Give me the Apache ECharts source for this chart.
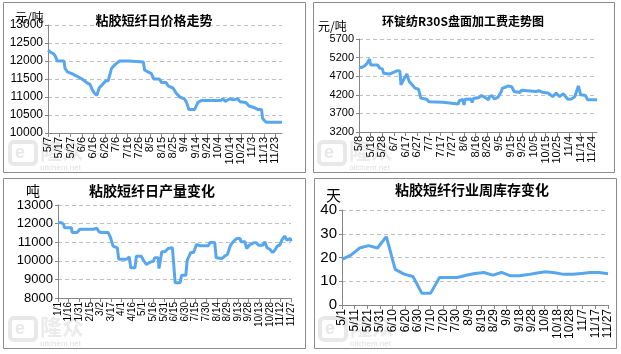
<!DOCTYPE html>
<html>
<head>
<meta charset="utf-8">
<script src="https://cdn.jsdelivr.net/npm/echarts@6/dist/echarts.min.js"></script>
<style>
html, body { margin: 0; padding: 0; background: #fff; }
#main { width: 621px; height: 354px; }
</style>
</head>
<body>
<div id="main"></div>
<script>
// 粘胶短纤日价格 (day index from 5/7)
var priceTicks = ['5/7','5/17','5/27','6/6','6/16','6/26','7/6','7/16','7/26','8/5','8/15','8/25','9/4','9/14','9/24','10/4','10/14','10/24','11/3','11/13','11/23'];
var priceDays = [0,2,5,7,8,14,15,17,21,24,30,34,37,39,41,43,45,48,51,53,56,59,63,71,72,84,85,88,91,93,98,100,104,106,110,113,116,120,122,124,129,132,135,140,141,152,154,156,160,163,167,169,174,177,182,185,188,189,192,206];
var priceValues = [12300,12250,12200,12100,12000,12000,11800,11700,11650,11600,11500,11400,11350,11200,11100,11050,11250,11350,11450,11450,11800,11900,12000,12000,11970,11970,11750,11700,11650,11500,11500,11400,11400,11300,11250,11100,11000,10950,10850,10650,10650,10850,10900,10900,10880,10900,10950,10880,10950,10920,10950,10870,10850,10750,10700,10650,10650,10400,10300,10300];

// 环锭纺R30S盘面加工费 (day index from 5/8)
var feeTicks = ['5/8','5/18','5/28','6/7','6/17','6/27','7/7','7/17','7/27','8/6','8/16','8/26','9/5','9/15','9/25','10/5','10/15','10/25','11/4','11/14','11/24'];
var feeDays = [0,2,5,7,9,10,16,18,20,21,26,28,33,35,36,39,41,43,45,48,51,53,54,58,60,72,73,85,86,89,90,91,96,97,98,103,105,108,111,112,114,116,119,122,123,126,128,131,133,138,139,152,153,154,158,162,166,169,172,175,179,182,185,186,188,190,194,196,204];
var feeValues = [4950,4930,4980,5050,5160,5000,5000,4910,4900,4780,4760,4780,4850,4840,4470,4650,4760,4560,4490,4380,4350,4110,4150,4080,4010,4000,3950,3950,4040,4080,3930,4080,4090,3990,4100,4130,4180,4130,4070,4150,4180,4090,4130,4290,4380,4410,4440,4410,4290,4260,4320,4290,4250,4310,4260,4250,4150,4250,4150,4230,4080,4090,4150,4200,4440,4200,4180,4070,4070];

// 粘胶短纤日产量 (day index from 1/1)
var outputTicks = ['1/1','1/16','1/31','2/15','3/2','3/17','4/1','4/16','5/1','5/16','5/31','6/15','6/30','7/15','7/30','8/14','8/29','9/13','9/28','10/13','10/28','11/12','11/27'];
var outputDays = [0,5,8,9,19,20,27,31,50,52,55,58,61,71,74,78,84,86,97,101,103,109,111,118,121,125,131,135,137,142,143,147,151,156,162,164,166,173,175,181,183,188,192,196,201,213,215,222,224,232,236,240,244,248,253,258,259,265,267,271,277,281,284,290,293,296,300,304,307,311,314,317,319,321,324,326,329,330];
var outputValues = [12060,12050,11970,11780,11780,11520,11520,11690,11700,11780,11750,11560,11520,11520,11290,10790,10700,10080,10080,10210,9620,9620,10250,10250,10030,9800,9940,9970,10160,10160,9580,10480,10480,10660,10710,10710,8820,8820,9220,9220,10030,10440,10440,10880,10810,10810,10980,10980,10160,10120,10250,10340,10810,11020,11200,11200,11020,11020,10660,10840,10970,10970,10840,10840,11020,10700,10620,10440,10570,10810,10840,11110,11050,11330,11110,11200,11200,11050];

// 粘胶短纤行业周库存 (weekly, day index from 5/1)
var stockTicks = ['5/1','5/11','5/21','5/31','6/10','6/20','6/30','7/10','7/20','7/30','8/9','8/19','8/29','9/8','9/18','9/28','10/8','10/18','10/28','11/7','11/17','11/27'];
var stockDays = [0,7,14,21,28,35,42,49,56,63,70,77,84,91,98,105,112,119,126,133,140,147,154,161,168,175,182,189,196,203,210];
var stockValues = [19.2,21,24,25,24,28.8,15,13,12,5,5,11.6,11.6,11.6,12.5,13.3,13.7,12.6,13.7,12.3,12.3,12.8,13.5,14,13.6,12.9,12.9,13.3,13.7,13.7,13.2];

var lineColor = '#58a6ee';
var axisColor = '#868686';
var numFont = 'Liberation Sans';
var cjkFont = 'Noto Sans CJK SC';

function pairs(days, vals) {
    var out = [];
    for (var i = 0; i < days.length; i++) out.push([days[i], vals[i]]);
    return out;
}

function xAxisFor(idx, ticks, step, max, size) {
    return {
        type: 'value', gridIndex: idx, min: 0, max: max, interval: step,
        axisLine: { lineStyle: { color: axisColor } },
        axisTick: { show: true, length: 4, lineStyle: { color: axisColor } },
        splitLine: { show: false },
        axisLabel: {
            rotate: 90, margin: 4, fontSize: size, color: '#000', fontFamily: numFont,
            showMinLabel: true, showMaxLabel: max % step === 0, hideOverlap: false,
            formatter: function (v) { return ticks[Math.round(v / step)] || ''; }
        }
    };
}

function yAxisFor(idx, min, max, step, size) {
    return {
        type: 'value', gridIndex: idx, min: min, max: max, interval: step,
        axisLine: { show: true, lineStyle: { color: axisColor } },
        axisTick: { show: true, length: 3, lineStyle: { color: axisColor } },
        splitLine: { lineStyle: { color: '#c0c0c0', type: [4, 3] } },
        axisLabel: { fontSize: size, color: '#000', fontFamily: numFont, margin: 5,
            showMinLabel: true, showMaxLabel: true, hideOverlap: false,
            formatter: function (v) { return String(v); } }
    };
}

function lineSeries(idx, data) {
    return {
        type: 'line', xAxisIndex: idx, yAxisIndex: idx, data: data,
        showSymbol: false, symbol: 'none', animation: false,
        lineStyle: { color: lineColor, width: 3 }
    };
}

function frame(x, y, w, h) {
    return { type: 'rect', shape: { x: x + 0.5, y: y + 0.5, width: w, height: h },
        style: { fill: null, stroke: '#8c8c8c', lineWidth: 1 }, z: 0 };
}

function label(text, x, y, size, bold, align) {
    return { type: 'text', x: x, y: y, z: 10,
        style: { text: text, fontSize: size, fontWeight: bold ? 'bold' : 'normal',
            fontFamily: cjkFont, fill: '#000', align: align || 'center', verticalAlign: 'middle' } };
}

function watermark(x, y) {
    return { type: 'group', x: x, y: y, z: -1, children: [
        { type: 'rect', shape: { x: 0, y: 0, width: 26, height: 22, r: 4 },
          style: { fill: null, stroke: '#e8e8e8', lineWidth: 4 } },
        { type: 'text', x: 5, y: 2, style: { text: 'e', fontSize: 18, fontWeight: 'bold', fill: '#e8e8e8', fontFamily: numFont } },
        { type: 'text', x: 30, y: -2, style: { text: '隆众', fontSize: 22, fontWeight: 'bold', fill: '#ebebeb', fontFamily: cjkFont } },
        { type: 'text', x: 30, y: 22, style: { text: 'oilchem.net', fontSize: 8, fill: '#dedede', fontFamily: numFont } }
    ] };
}

var chart = echarts.init(document.getElementById('main'));

var option = {
    backgroundColor: '#fff',
    animation: false,
    grid: [
        { left: 48, top: 25, width: 234, height: 108 },
        { left: 359, top: 39, width: 238, height: 93 },
        { left: 58, top: 205, width: 233, height: 93 },
        { left: 342, top: 210, width: 266, height: 95 }
    ],
    xAxis: [
        xAxisFor(0, priceTicks, 10, 206, 11),
        xAxisFor(1, feeTicks, 10, 204, 11),
        xAxisFor(2, outputTicks, 15, 330, 10),
        xAxisFor(3, stockTicks, 10, 210, 12)
    ],
    yAxis: [
        yAxisFor(0, 10000, 13000, 500, 12),
        yAxisFor(1, 3200, 5700, 500, 11),
        yAxisFor(2, 8000, 13000, 1000, 13),
        yAxisFor(3, 0, 40, 10, 15)
    ],
    series: [
        lineSeries(0, pairs(priceDays, priceValues)),
        lineSeries(1, pairs(feeDays, feeValues)),
        lineSeries(2, pairs(outputDays, outputValues)),
        lineSeries(3, pairs(stockDays, stockValues))
    ],
    graphic: [
        frame(3, 2, 302, 170),
        frame(313, 2, 301, 170),
        frame(3, 178, 302, 170),
        frame(314, 178, 302, 170),
        watermark(10, 142),
        watermark(319, 142),
        watermark(10, 318),
        watermark(320, 318),
        label('粘胶短纤日价格走势', 154, 20, 13, true),
        label('环锭纺R30S盘面加工费走势图', 463, 21, 12, true),
        label('粘胶短纤日产量变化', 152, 191, 14, true),
        label('粘胶短纤行业周库存变化', 472, 190, 14, true),
        label('元/吨', 15, 17, 12, false, 'left'),
        label('元/吨', 318, 26, 12, false, 'left'),
        label('吨', 26, 191, 14, false, 'left'),
        label('天', 326, 195, 15, false, 'left')
    ]
};

chart.setOption(option);
</script>
</body>
</html>
